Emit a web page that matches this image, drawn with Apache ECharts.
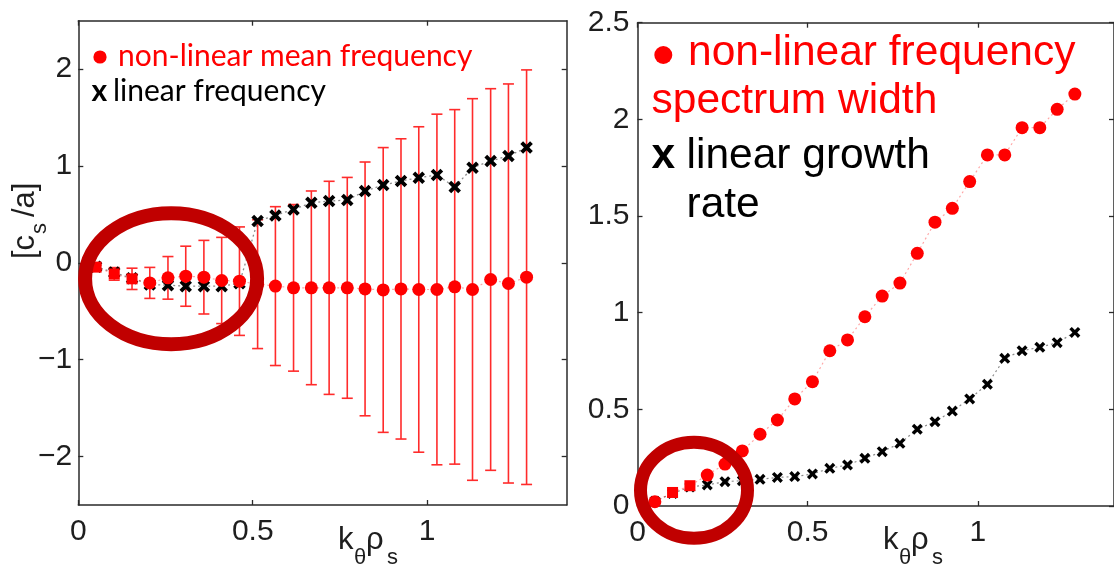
<!DOCTYPE html>
<html><head><meta charset="utf-8">
<script src="https://cdn.jsdelivr.net/npm/echarts@6/dist/echarts.min.js"></script>
<style>html,body{margin:0;padding:0;background:#fff}#c{width:1114px;height:568px}</style>
</head><body><div id="c"></div>
<script>
// ---- data ----
const kValues = [0.051,0.103,0.154,0.205,0.257,0.308,0.360,0.411,0.462,0.514,0.565,0.617,0.668,0.719,0.771,0.822,0.874,0.925,0.976,1.028,1.079,1.130,1.182,1.233,1.285];
// left panel
const nlMeanFreq = [-0.044,-0.114,-0.165,-0.207,-0.155,-0.138,-0.148,-0.182,-0.189,-0.22,-0.24,-0.258,-0.258,-0.258,-0.258,-0.269,-0.28,-0.269,-0.275,-0.275,-0.248,-0.275,-0.172,-0.213,-0.148];
const nlFreqStd  = [0.02,0.065,0.11,0.16,0.22,0.31,0.38,0.445,0.56,0.665,0.82,0.86,1.0,1.10,1.14,1.31,1.47,1.55,1.68,1.81,1.83,1.97,1.97,2.06,2.14];
const linFreq    = [-0.04,-0.10,-0.16,-0.224,-0.23,-0.241,-0.241,-0.241,-0.21,0.431,0.49,0.552,0.62,0.638,0.648,0.741,0.803,0.845,0.879,0.907,0.783,0.982,1.052,1.103,1.19];
// right panel
const nlSpecWidth = [0.022,0.07,0.105,0.16,0.217,0.285,0.371,0.445,0.554,0.643,0.803,0.859,0.979,1.086,1.153,1.307,1.468,1.54,1.678,1.816,1.816,1.957,1.957,2.052,2.131];
const linGrowth   = [0.025,0.065,0.098,0.109,0.126,0.131,0.138,0.148,0.152,0.166,0.195,0.212,0.247,0.281,0.324,0.397,0.436,0.491,0.554,0.63,0.764,0.803,0.821,0.845,0.898];
// tick labels
const xTicks = [0, 0.5, 1];
const yTicksLeft = [-2, -1, 0, 1, 2];
const yTicksRight = [0, 0.5, 1, 1.5, 2, 2.5];
// texts
const leftLegend = ['non-linear mean frequency', 'linear frequency'];
const rightLegend = ['non-linear frequency', 'spectrum width', 'linear growth', 'rate'];

// ---- styles ----
const AX = '#2a2a2a';
const TICKFONT = 'Liberation Sans, Arial, sans-serif';
const fmt = v => (v < 0 ? '\u2212' + String(-v) : String(v));
const xPath = 'path://M2.2,0 L5,2.8 L7.8,0 L10,2.2 L7.2,5 L10,7.8 L7.8,10 L5,7.2 L2.2,10 L0,7.8 L2.8,5 L0,2.2 Z';

function xAx(grid, pos, show) {
  return {
    gridIndex: grid, type: 'value', min: 0, max: 1.4, position: pos,
    axisLine: { show: true, onZero: false, lineStyle: { color: AX, width: 1.5 } },
    axisTick: { show: true, inside: true, length: 5, customValues: xTicks, lineStyle: { color: AX, width: 1.3 } },
    axisLabel: { show: show, customValues: xTicks, margin: 12, fontSize: 30, color: '#1e1e1e', fontFamily: TICKFONT, formatter: fmt },
    splitLine: { show: false }
  };
}
function yAx(grid, pos, show, min, max, ticks, margin) {
  return {
    gridIndex: grid, type: 'value', min: min, max: max, position: pos,
    axisLine: { show: true, onZero: false, lineStyle: { color: AX, width: 1.5 } },
    axisTick: { show: true, inside: true, length: 5, customValues: ticks, lineStyle: { color: AX, width: 1.3 } },
    axisLabel: { show: show, customValues: ticks, margin: margin, fontSize: 30, color: '#1e1e1e', fontFamily: TICKFONT, formatter: fmt },
    splitLine: { show: false }
  };
}

const errData = kValues.map((k, i) => [k, nlMeanFreq[i] - nlFreqStd[i], nlMeanFreq[i] + nlFreqStd[i]]);
const pair = arr => kValues.map((k, i) => [k, arr[i]]);

const chart = echarts.init(document.getElementById('c'), null, { renderer: 'canvas' });

const option = {
  animation: false,
  backgroundColor: '#ffffff',
  grid: [
    { left: 78.3, top: 20.7, width: 488.4, height: 484.3 },
    { left: 637.5, top: 22.7, width: 481.6, height: 483.3 }
  ],
  xAxis: [ xAx(0, 'bottom', true), xAx(0, 'top', false), xAx(1, 'bottom', true), xAx(1, 'top', false) ],
  yAxis: [
    yAx(0, 'left', true, -2.5, 2.5, yTicksLeft, 6),
    yAx(0, 'right', false, -2.5, 2.5, yTicksLeft, 6),
    yAx(1, 'left', true, 0, 2.5, yTicksRight, 8),
    yAx(1, 'right', false, 0, 2.5, yTicksRight, 8)
  ],
  series: [
    {
      type: 'custom', xAxisIndex: 0, yAxisIndex: 0, data: errData, z: 2,
      renderItem: function (params, api) {
        const x = api.value(0), lo = api.value(1), hi = api.value(2);
        const p1 = api.coord([x, hi]), p2 = api.coord([x, lo]);
        const cw = 5.5;
        const st = { stroke: '#ff2b2b', lineWidth: 1.6 };
        return { type: 'group', children: [
          { type: 'line', shape: { x1: p1[0], y1: p1[1], x2: p2[0], y2: p2[1] }, style: st },
          { type: 'line', shape: { x1: p1[0] - cw, y1: p1[1], x2: p1[0] + cw, y2: p1[1] }, style: st },
          { type: 'line', shape: { x1: p2[0] - cw, y1: p2[1], x2: p2[0] + cw, y2: p2[1] }, style: st }
        ]};
      }
    },
    {
      type: 'line', xAxisIndex: 0, yAxisIndex: 0, data: pair(linFreq), z: 3,
      symbol: xPath, symbolSize: 12.5, showAllSymbol: true,
      itemStyle: { color: '#000' },
      lineStyle: { type: [2, 3], color: 'rgba(0,0,0,0.45)', width: 1.3 }
    },
    {
      type: 'line', xAxisIndex: 0, yAxisIndex: 0, data: pair(nlMeanFreq), z: 4,
      symbol: (v, p) => (p.dataIndex < 3 ? 'rect' : 'circle'), symbolSize: (v, p) => (p.dataIndex < 3 ? 11 : 13), showAllSymbol: true,
      itemStyle: { color: '#ff0000' },
      lineStyle: { type: [2, 3], color: 'rgba(255,0,0,0.35)', width: 1.2 }
    },
    {
      type: 'line', xAxisIndex: 2, yAxisIndex: 2, data: pair(linGrowth), z: 3,
      symbol: xPath, symbolSize: 11, showAllSymbol: true,
      itemStyle: { color: '#000' },
      lineStyle: { type: [2, 3], color: 'rgba(0,0,0,0.45)', width: 1.2 }
    },
    {
      type: 'line', xAxisIndex: 2, yAxisIndex: 2, data: pair(nlSpecWidth), z: 4,
      symbol: (v, p) => ((p.dataIndex === 1 || p.dataIndex === 2) ? 'rect' : 'circle'), symbolSize: (v, p) => ((p.dataIndex === 1 || p.dataIndex === 2) ? 11 : 13), showAllSymbol: true,
      itemStyle: { color: '#ff0000' },
      lineStyle: { type: [2, 3], color: 'rgba(255,0,0,0.35)', width: 1.2 }
    }
  ]
};
chart.setOption(option);

// ---- texts and annotation rings ----
function txt(s, x, yBase, size, color, family, weight) {
  return { type: 'text', z: 50, style: { text: s, x: x, y: yBase - 0.33 * size, fill: color,
    font: (weight || 'normal') + ' ' + size + 'px ' + family, textAlign: 'left', textVerticalAlign: 'middle', align: 'left', verticalAlign: 'middle' } };
}
const LEG = 'Lato, "Open Sans", sans-serif';
const ARI = '"Liberation Sans", Arial, sans-serif';
const els = [];
// left legend
els.push({ type: 'circle', z: 50, shape: { cx: 100, cy: 57, r: 6.6 }, style: { fill: '#ff0000' } });
els.push(txt(leftLegend[0], 118, 66, 30, '#ff0000', LEG));
els.push(txt('x', 91.5, 101, 30, '#000', LEG, 'bold'));
els.push(txt(leftLegend[1], 113, 101, 30, '#000', LEG));
// right legend
els.push({ type: 'circle', z: 50, shape: { cx: 663.3, cy: 55, r: 9 }, style: { fill: '#ff0000' } });
els.push(txt(rightLegend[0], 688, 67, 42.5, '#ff0000', ARI));
els.push(txt(rightLegend[1], 651.5, 115.5, 42.5, '#ff0000', ARI));
els.push(txt('x', 651.5, 170.5, 42.5, '#000', ARI, 'bold'));
els.push(txt(rightLegend[2], 686.5, 170.5, 42.5, '#000', ARI));
els.push(txt(rightLegend[3], 686.5, 219, 42.5, '#000', ARI));
// x axis names
[0, 545].forEach(dx => {
  els.push(txt('k', 338 + dx, 551, 31, '#1e1e1e', ARI));
  els.push(txt('\u03b8', 354 + dx, 565, 22, '#1e1e1e', ARI));
  els.push(txt('\u03c1', 366 + dx, 551, 31, '#1e1e1e', ARI));
  els.push(txt('s', 387 + dx, 565, 22, '#1e1e1e', ARI));
});
// y axis name (rotated)
els.push({ type: 'group', x: 30, y: 259, rotation: Math.PI / 2, z: 50, children: [
  { type: 'text', style: { text: '[c', x: 0, y: -5, fill: '#1e1e1e', font: '31px ' + ARI, textVerticalAlign: 'middle', verticalAlign: 'middle' } },
  { type: 'text', style: { text: 's', x: 25, y: 10, fill: '#1e1e1e', font: '22px ' + ARI, textVerticalAlign: 'middle', verticalAlign: 'middle' } },
  { type: 'text', style: { text: '/a]', x: 42, y: -5, fill: '#1e1e1e', font: '31px ' + ARI, textVerticalAlign: 'middle', verticalAlign: 'middle' } }
]});
// annotation rings placed from data coordinates
const cL = chart.convertToPixel({ xAxisIndex: 0, yAxisIndex: 0 }, [0.266, -0.163]);
const cR = chart.convertToPixel({ xAxisIndex: 2, yAxisIndex: 2 }, [0.166, 0.081]);
els.push({ type: 'ellipse', z: 100, shape: { cx: cL[0], cy: cL[1], rx: 86, ry: 65.5 }, style: { fill: null, stroke: '#c00000', lineWidth: 14 } });
els.push({ type: 'ellipse', z: 100, shape: { cx: cR[0], cy: cR[1], rx: 53.5, ry: 48 }, style: { fill: null, stroke: '#c00000', lineWidth: 13 } });
chart.setOption({ graphic: { elements: els } });
</script>
</body></html>
